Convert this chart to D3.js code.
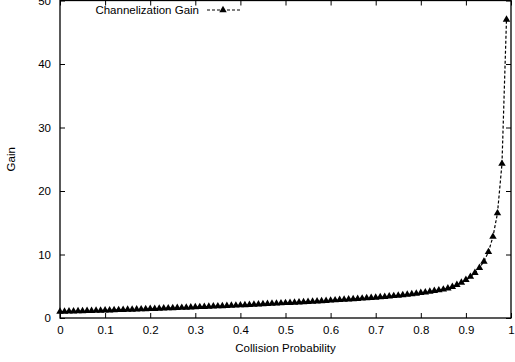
<!DOCTYPE html>
<html>
<head>
<meta charset="utf-8">
<script src="https://cdn.jsdelivr.net/npm/d3@7"></script>
<style>
  body { margin: 0; background: #fff; }
  svg { display: block; font-family: "Liberation Sans", Arial, sans-serif; }
  .axis text { font-size: 11.5px; fill: #000; }
  .axis path, .axis line { stroke: #000; }
</style>
</head>
<body>
<div class="container"></div>
<script>
const WIDTH = 515;
const HEIGHT = 362;

// x: collision probability, 0 .. 0.99 in steps of 0.01
var probs = [
    0.00, 0.01, 0.02, 0.03, 0.04, 0.05, 0.06, 0.07, 0.08, 0.09,
    0.10, 0.11, 0.12, 0.13, 0.14, 0.15, 0.16, 0.17, 0.18, 0.19,
    0.20, 0.21, 0.22, 0.23, 0.24, 0.25, 0.26, 0.27, 0.28, 0.29,
    0.30, 0.31, 0.32, 0.33, 0.34, 0.35, 0.36, 0.37, 0.38, 0.39,
    0.40, 0.41, 0.42, 0.43, 0.44, 0.45, 0.46, 0.47, 0.48, 0.49,
    0.50, 0.51, 0.52, 0.53, 0.54, 0.55, 0.56, 0.57, 0.58, 0.59,
    0.60, 0.61, 0.62, 0.63, 0.64, 0.65, 0.66, 0.67, 0.68, 0.69,
    0.70, 0.71, 0.72, 0.73, 0.74, 0.75, 0.76, 0.77, 0.78, 0.79,
    0.80, 0.81, 0.82, 0.83, 0.84, 0.85, 0.86, 0.87, 0.88, 0.89,
    0.90, 0.91, 0.92, 0.93, 0.94, 0.95, 0.96, 0.97, 0.98, 0.99
];

// channelization gain
var gains = [
    1.00, 1.02, 1.04, 1.06, 1.08, 1.10, 1.12, 1.14, 1.16, 1.18,
    1.20, 1.22, 1.25, 1.27, 1.29, 1.32, 1.34, 1.36, 1.39, 1.41,
    1.44, 1.46, 1.49, 1.51, 1.54, 1.57, 1.59, 1.62, 1.65, 1.68,
    1.71, 1.74, 1.77, 1.80, 1.83, 1.86, 1.89, 1.92, 1.95, 1.98,
    2.02, 2.05, 2.08, 2.12, 2.15, 2.19, 2.22, 2.26, 2.29, 2.33,
    2.37, 2.40, 2.44, 2.48, 2.52, 2.56, 2.60, 2.64, 2.68, 2.72,
    2.76, 2.80, 2.85, 2.89, 2.94, 2.98, 3.03, 3.08, 3.13, 3.18,
    3.23, 3.29, 3.35, 3.41, 3.47, 3.54, 3.61, 3.69, 3.77, 3.86,
    3.95, 4.05, 4.16, 4.28, 4.38, 4.50, 4.68, 4.92, 5.22, 5.58,
    6.00, 6.50, 7.10, 7.90, 8.90, 10.40, 12.80, 16.50, 24.30, 47.00
];

var xTicks = [0, 0.1, 0.2, 0.3, 0.4, 0.5, 0.6, 0.7, 0.8, 0.9, 1];
var yTicks = [0, 10, 20, 30, 40, 50];

var xLabel = 'Collision Probability';
var yLabel = 'Gain';
var seriesName = 'Channelization Gain';

var translate = function(x, y) {
    return `translate(${x},${y})`;
};

var triangle = d3.symbol().type(d3.symbolTriangle).size(24);

var drawChart = function() {
    var left = 60, right = 511, top = 0.5, bottom = 318;

    var svg = d3.select('.container').append('svg')
        .attr('width', WIDTH)
        .attr('height', HEIGHT);

    let xScale = d3.scaleLinear().domain([0, 1]).range([left, right]);
    let yScale = d3.scaleLinear().domain([0, 50]).range([bottom, top]);

    // ticks point inwards, mirrored on top and right like gnuplot
    svg.append('g')
        .classed('axis', true)
        .attr('transform', translate(0, bottom))
        .call(d3.axisBottom(xScale).tickValues(xTicks).tickSize(-5).tickPadding(8)
            .tickFormat(d => String(d)))
        .call(g => g.select('.domain').remove());

    svg.append('g')
        .classed('axis', true)
        .attr('transform', translate(0, top))
        .call(d3.axisTop(xScale).tickValues(xTicks).tickSize(-5).tickFormat(''))
        .call(g => g.select('.domain').remove());

    svg.append('g')
        .classed('axis', true)
        .attr('transform', translate(left, 0))
        .call(d3.axisLeft(yScale).tickValues(yTicks).tickSize(-5).tickPadding(9))
        .call(g => g.select('.domain').remove());

    svg.append('g')
        .classed('axis', true)
        .attr('transform', translate(right, 0))
        .call(d3.axisRight(yScale).tickValues(yTicks).tickSize(-5).tickFormat(''))
        .call(g => g.select('.domain').remove());

    svg.append('rect')
        .attr('x', left)
        .attr('y', top)
        .attr('width', right - left)
        .attr('height', bottom - top)
        .attr('fill', 'none')
        .attr('stroke', '#000')
        .attr('stroke-width', 1.3);

    var data = probs.map((p, i) => [p, gains[i]]);

    var line = d3.line()
        .x(([x, y]) => xScale(x))
        .y(([x, y]) => yScale(y));

    svg.append('path')
        .attr('d', line(data))
        .attr('fill', 'none')
        .attr('stroke', '#000')
        .attr('stroke-width', 1.2)
        .attr('stroke-dasharray', '3,2');

    svg.append('g').selectAll('path')
        .data(data)
        .join('path')
        .attr('transform', d => translate(xScale(d[0]), yScale(d[1])))
        .attr('d', triangle)
        .attr('fill', '#000');

    // legend
    var legend = svg.append('g').attr('transform', translate(0, 10));
    legend.append('text')
        .attr('x', 199)
        .attr('y', 4)
        .attr('text-anchor', 'end')
        .attr('font-size', 11.5)
        .text(seriesName);
    legend.append('line')
        .attr('x1', 207).attr('x2', 240)
        .attr('y1', 0).attr('y2', 0)
        .attr('stroke', '#000')
        .attr('stroke-width', 1.2)
        .attr('stroke-dasharray', '3,2');
    legend.append('path')
        .attr('transform', translate(223, 0))
        .attr('d', triangle)
        .attr('fill', '#000');

    svg.append('text')
        .attr('x', (left + right) / 2)
        .attr('y', 352)
        .attr('text-anchor', 'middle')
        .attr('font-size', 11.5)
        .text(xLabel);

    svg.append('text')
        .attr('transform', translate(15, (top + bottom) / 2) + ' rotate(-90)')
        .attr('text-anchor', 'middle')
        .attr('font-size', 11.5)
        .text(yLabel);
};
window.onload = drawChart;
</script>
</body>
</html>
